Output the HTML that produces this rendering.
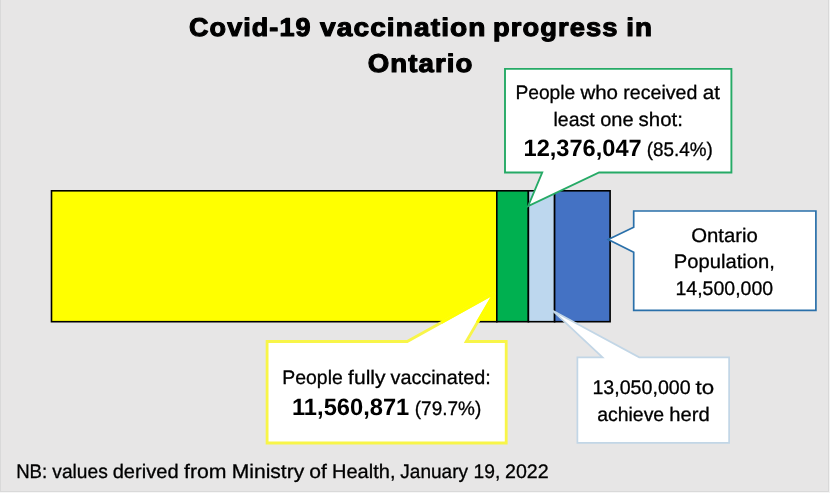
<!DOCTYPE html>
<html lang="en">
<head>
<meta charset="utf-8">
<title>Covid-19 vaccination progress in Ontario</title>
<style>
html,body{margin:0;padding:0;background:#fff;}
body{width:834px;height:494px;overflow:hidden;position:relative;font-family:"Liberation Sans",sans-serif;}
svg{position:absolute;left:0;top:0;display:block;}
text{font-family:"Liberation Sans",sans-serif;fill:#000;text-rendering:geometricPrecision;}
.t{font-weight:bold;font-size:25.6px;letter-spacing:1px;stroke:#000;stroke-width:1.1px;stroke-linejoin:round;}
.r{font-size:19.6px;stroke:#000;stroke-width:0.3px;}
.b{font-size:23.6px;font-weight:bold;}
</style>
</head>
<body>
<svg width="834" height="494" viewBox="0 0 834 494" role="img" aria-label="Covid-19 vaccination progress in Ontario">
  <!-- chart area with thin outer border -->
  <g id="chart-area">
    <rect x="0" y="0" width="829" height="492" fill="#e7e6e6"/>
    <rect x="0" y="0" width="1" height="492" fill="#d9d9d9"/>
    <rect x="828" y="0" width="1" height="492" fill="#d9d9d9"/>
    <rect x="0" y="491" width="829" height="1" fill="#d9d9d9"/>
    <rect x="829" y="0" width="1" height="493" fill="#f3f3f3"/>
    <rect x="0" y="492" width="829" height="1" fill="#f6f6f6"/>
  </g>

  <!-- chart title -->
  <g id="chart-title">
    <text class="t" x="189.0" y="36.0" textLength="122.6" lengthAdjust="spacingAndGlyphs">Covid-19</text>
    <text class="t" x="320.0" y="36.0" textLength="166.6" lengthAdjust="spacingAndGlyphs">vaccination</text>
    <text class="t" x="492.9" y="36.0" textLength="125.6" lengthAdjust="spacingAndGlyphs">progress</text>
    <text class="t" x="626.2" y="36.0" textLength="26.9" lengthAdjust="spacingAndGlyphs">in</text>
    <text class="t" x="367.7" y="72.0" textLength="105.8" lengthAdjust="spacingAndGlyphs">Ontario</text>
  </g>

  <!-- stacked horizontal bar -->
  <g id="stacked-bar" stroke="#000" stroke-width="1.6">
    <rect x="51.5" y="190.8" width="445.3" height="130.9" fill="#ffff00"/>
    <rect x="496.8" y="190.8" width="31.6" height="130.9" fill="#00b050"/>
    <rect x="528.4" y="190.8" width="26.2" height="130.9" fill="#bdd7ee"/>
    <rect x="554.6" y="190.8" width="55.5" height="130.9" fill="#4472c4"/>
  </g>

  <!-- callout: at least one shot (green) -->
  <g id="callout-one-shot">
    <path d="M505,68.9 H731.4 V172.5 H599.1 L528.2,206 L542.2,172.5 H505 Z" fill="#fff" stroke="#26aa66" stroke-width="1.9"/>
    <text class="r" x="515.4" y="99.0" textLength="59.8" lengthAdjust="spacingAndGlyphs">People</text>
    <text class="r" x="580.4" y="99.0" textLength="37.6" lengthAdjust="spacingAndGlyphs">who</text>
    <text class="r" x="623.3" y="99.0" textLength="74.0" lengthAdjust="spacingAndGlyphs">received</text>
    <text class="r" x="702.7" y="99.0" textLength="17.2" lengthAdjust="spacingAndGlyphs">at</text>
    <text class="r" x="553.5" y="126.0" textLength="41.2" lengthAdjust="spacingAndGlyphs">least</text>
    <text class="r" x="600.2" y="126.0" textLength="33.4" lengthAdjust="spacingAndGlyphs">one</text>
    <text class="r" x="638.6" y="126.0" textLength="44.3" lengthAdjust="spacingAndGlyphs">shot:</text>
    <text class="b" x="523.5" y="156.0" textLength="118.2" lengthAdjust="spacingAndGlyphs">12,376,047</text>
    <text class="r" x="646.8" y="156.0" textLength="66.1" lengthAdjust="spacingAndGlyphs">(85.4%)</text>
  </g>

  <!-- callout: Ontario population (blue) -->
  <g id="callout-population">
    <path d="M633.7,211 H815.9 V310.4 H633.7 V252.2 L608.2,239.5 L633.7,227.2 Z" fill="#fff" stroke="#2a70aa" stroke-width="1.7"/>
    <text class="r" x="691.2" y="242.0" textLength="66.7" lengthAdjust="spacingAndGlyphs">Ontario</text>
    <text class="r" x="673.8" y="268.0" textLength="101.0" lengthAdjust="spacingAndGlyphs">Population,</text>
    <text class="r" x="675.5" y="295.0" textLength="97.6" lengthAdjust="spacingAndGlyphs">14,500,000</text>
  </g>

  <!-- callout: fully vaccinated (yellow) -->
  <g id="callout-fully-vaccinated">
    <path d="M267.1,341.5 H407.2 L494.6,293 L466.2,341.5 H506.2 V443 H267.1 Z" fill="#fff" stroke="#f8f548" stroke-width="2.8" stroke-miterlimit="3"/>
    <path d="M441.4,322.5 L494.6,293 L477.3,322.5" fill="none" stroke="#ffff00" stroke-width="3" stroke-miterlimit="3"/>
    <text class="r" x="282.3" y="384.0" textLength="60.5" lengthAdjust="spacingAndGlyphs">People</text>
    <text class="r" x="348.1" y="384.0" textLength="37.4" lengthAdjust="spacingAndGlyphs">fully</text>
    <text class="r" x="390.5" y="384.0" textLength="100.2" lengthAdjust="spacingAndGlyphs">vaccinated:</text>
    <text class="b" x="292.0" y="415.0" textLength="117.3" lengthAdjust="spacingAndGlyphs">11,560,871</text>
    <text class="r" x="414.8" y="415.0" textLength="66.4" lengthAdjust="spacingAndGlyphs">(79.7%)</text>
  </g>

  <!-- callout: herd immunity target (light blue) -->
  <g id="callout-herd">
    <path d="M577.4,357.3 H602.6 L552.9,310.8 L639.2,357.3 H729.1 V442.8 H577.4 Z" fill="#fff" stroke="#c2d6e6" stroke-width="1.7"/>
    <text class="r" x="592.4" y="394.0" textLength="98.3" lengthAdjust="spacingAndGlyphs">13,050,000</text>
    <text class="r" x="695.5" y="394.0" textLength="18.6" lengthAdjust="spacingAndGlyphs">to</text>
    <text class="r" x="597.2" y="421.0" textLength="67.0" lengthAdjust="spacingAndGlyphs">achieve</text>
    <text class="r" x="669.3" y="421.0" textLength="40.4" lengthAdjust="spacingAndGlyphs">herd</text>
  </g>

  <!-- footnote -->
  <g id="footnote">
    <text class="r" x="16.2" y="478.0" textLength="31.0" lengthAdjust="spacingAndGlyphs">NB:</text>
    <text class="r" x="52.3" y="478.0" textLength="55.5" lengthAdjust="spacingAndGlyphs">values</text>
    <text class="r" x="112.7" y="478.0" textLength="65.9" lengthAdjust="spacingAndGlyphs">derived</text>
    <text class="r" x="184.0" y="478.0" textLength="42.5" lengthAdjust="spacingAndGlyphs">from</text>
    <text class="r" x="231.7" y="478.0" textLength="72.6" lengthAdjust="spacingAndGlyphs">Ministry</text>
    <text class="r" x="309.2" y="478.0" textLength="17.6" lengthAdjust="spacingAndGlyphs">of</text>
    <text class="r" x="332.0" y="478.0" textLength="63.5" lengthAdjust="spacingAndGlyphs">Health,</text>
    <text class="r" x="400.3" y="478.0" textLength="67.7" lengthAdjust="spacingAndGlyphs">January</text>
    <text class="r" x="473.5" y="478.0" textLength="26.8" lengthAdjust="spacingAndGlyphs">19,</text>
    <text class="r" x="505.0" y="478.0" textLength="43.7" lengthAdjust="spacingAndGlyphs">2022</text>
  </g>
</svg>
</body>
</html>
